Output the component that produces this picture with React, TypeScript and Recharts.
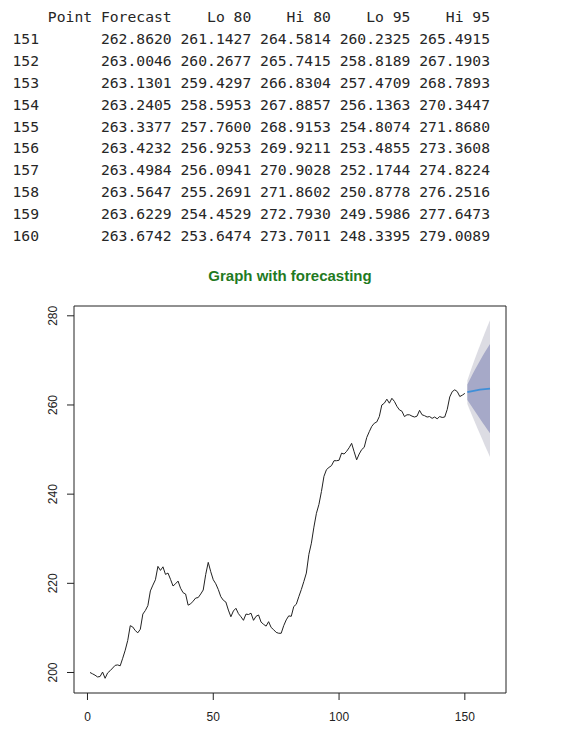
import React from "react";
import { ComposedChart, Line, Area, XAxis, YAxis, ReferenceArea } from "recharts";

// Observed series (time 1..150)
const observed: number[] = [
  200.0, 199.7, 199.4, 199.0, 199.1, 200.1, 198.7, 199.9, 200.4, 201.0,
  201.6, 201.7, 201.5, 203.2, 205.0, 207.2, 210.5, 210.2, 209.4, 208.9,
  209.7, 213.1, 213.9, 215.0, 218.3, 219.6, 220.8, 223.8, 222.9, 223.7,
  222.0, 222.3, 220.9, 219.4, 219.9, 220.5, 218.9, 217.9, 217.6, 215.1,
  215.4, 216.0, 216.7, 216.8, 217.6, 218.5, 222.0, 224.7, 222.6, 220.8,
  219.9, 218.6, 217.0, 216.2, 215.8, 214.0, 212.5, 213.8, 214.4, 213.2,
  212.5, 211.7, 213.1, 213.0, 213.3, 211.7, 212.6, 212.9, 211.3, 210.8,
  210.4, 211.4, 210.1, 209.6, 209.0, 208.8, 208.8, 210.5, 211.8, 212.7,
  212.6, 214.8, 215.3, 217.0, 218.6, 220.4, 222.3, 226.5, 229.0, 232.6,
  235.7, 237.7, 240.6, 244.0, 245.5, 246.0, 246.4, 247.5, 247.5, 247.6,
  249.2, 249.0, 249.6, 250.4, 251.4, 249.5, 247.7, 249.0, 250.0, 250.5,
  252.7, 254.0, 255.2, 255.9, 256.2, 257.4, 260.0, 260.4, 261.3, 260.4,
  261.5, 260.8, 259.7, 258.9, 258.6, 257.4, 257.8, 257.8, 257.5, 257.3,
  257.5, 258.8, 257.8, 257.6, 257.3, 257.4, 257.0, 257.3, 256.9, 257.4,
  257.2, 257.3, 259.0, 261.8, 263.0, 263.4, 263.0, 261.9, 262.2, 262.6,
];

// Forecast table
const fcPeriods: number[] = [151, 152, 153, 154, 155, 156, 157, 158, 159, 160];
const pointForecast: number[] = [262.862, 263.0046, 263.1301, 263.2405, 263.3377, 263.4232, 263.4984, 263.5647, 263.6229, 263.6742];
const lo80: number[] = [261.1427, 260.2677, 259.4297, 258.5953, 257.76, 256.9253, 256.0941, 255.2691, 254.4529, 253.6474];
const hi80: number[] = [264.5814, 265.7415, 266.8304, 267.8857, 268.9153, 269.9211, 270.9028, 271.8602, 272.793, 273.7011];
const lo95: number[] = [260.2325, 258.8189, 257.4709, 256.1363, 254.8074, 253.4855, 252.1744, 250.8778, 249.5986, 248.3395];
const hi95: number[] = [265.4915, 267.1903, 268.7893, 270.3447, 271.868, 273.3608, 274.8224, 276.2516, 277.6473, 279.0089];

const xTicks: number[] = [0, 50, 100, 150];
const yTicks: number[] = [200, 220, 240, 260, 280];
const titleText = "Graph with forecasting";

const X_DOMAIN: [number, number] = [-5.36, 166.36];
const Y_DOMAIN: [number, number] = [195.4, 282.2];

const obsData = observed.map((v, i) => ({ t: i + 1, v }));
const fcData = fcPeriods.map((t, i) => ({
  t,
  f: pointForecast[i],
  r80: [lo80[i], hi80[i]],
  r95: [lo95[i], hi95[i]],
}));

const headerLine =
  "    Point Forecast" + ["Lo 80", "Hi 80", "Lo 95", "Hi 95"].map((s) => " " + s.padStart(8)).join("");
const rowLines = fcPeriods.map(
  (t, i) =>
    String(t).padEnd(3) +
    "       " +
    pointForecast[i].toFixed(4) +
    [lo80[i], hi80[i], lo95[i], hi95[i]].map((v) => " " + v.toFixed(4)).join("")
);

const YTick = (props: any) => {
  const y = props.y;
  return (
    <text
      x={53.5}
      y={y}
      transform={`rotate(-90 53.5 ${y})`}
      textAnchor="middle"
      dominantBaseline="central"
      fontSize={12}
      fill="#222"
      fontFamily="'Liberation Sans', Arial, sans-serif"
    >
      {props.payload.value}
    </text>
  );
};

const XTick = (props: any) => {
  return (
    <text
      x={props.x}
      y={467}
      textAnchor="middle"
      dominantBaseline="central"
      fontSize={12}
      fill="#222"
      fontFamily="'Liberation Sans', Arial, sans-serif"
    >
      {props.payload.value}
    </text>
  );
};

export default function App() {
  return (
    <div style={{ position: "absolute", left: 0, top: 0, width: 568, height: 733, background: "#fff", overflow: "hidden" }}>
      <pre
        style={{
          position: "absolute",
          left: 12.5,
          top: 6,
          margin: 0,
          fontFamily: "'DejaVu Sans Mono', monospace",
          fontSize: 14.7,
          lineHeight: "21.9px",
          color: "#262626",
        }}
      >
        {[headerLine, ...rowLines].join("\n")}
      </pre>
      <div
        style={{
          position: "absolute",
          left: 74,
          width: 432,
          top: 266,
          lineHeight: "20px",
          textAlign: "center",
          fontFamily: "'Liberation Sans', Arial, sans-serif",
          fontWeight: "bold",
          fontSize: 15,
          color: "#1f7a1f",
        }}
      >
        {titleText}
      </div>
      <div style={{ position: "absolute", left: 0, top: 250 }}>
        <ComposedChart width={568} height={483} margin={{ top: 56, right: 62, bottom: 0, left: 0 }}>
          <XAxis
            dataKey="t"
            type="number"
            domain={X_DOMAIN}
            ticks={xTicks}
            allowDataOverflow
            height={40}
            axisLine={false}
            tickLine={{ stroke: "#222" }}
            tickSize={7}
            tick={<XTick />}
          />
          <YAxis
            type="number"
            domain={Y_DOMAIN}
            ticks={yTicks}
            allowDataOverflow
            width={74}
            axisLine={false}
            tickLine={{ stroke: "#222" }}
            tickSize={7}
            tick={<YTick />}
          />
          <Area
            data={fcData}
            dataKey="r95"
            type="linear"
            stroke="none"
            fill="#DCDCE3"
            fillOpacity={1}
            isAnimationActive={false}
          />
          <Area
            data={fcData}
            dataKey="r80"
            type="linear"
            stroke="none"
            fill="#A6A9C8"
            fillOpacity={1}
            isAnimationActive={false}
          />
          <Line
            data={obsData}
            dataKey="v"
            type="linear"
            stroke="#222"
            strokeWidth={1}
            dot={false}
            isAnimationActive={false}
          />
          <Line
            data={fcData}
            dataKey="f"
            type="linear"
            stroke="#3F8FD8"
            strokeWidth={1.8}
            dot={false}
            isAnimationActive={false}
          />
          <ReferenceArea
            x1={X_DOMAIN[0]}
            x2={X_DOMAIN[1]}
            y1={Y_DOMAIN[0]}
            y2={Y_DOMAIN[1]}
            fill="none"
            stroke="#222"
            strokeWidth={1}
            ifOverflow="visible"
          />
        </ComposedChart>
      </div>
    </div>
  );
}
